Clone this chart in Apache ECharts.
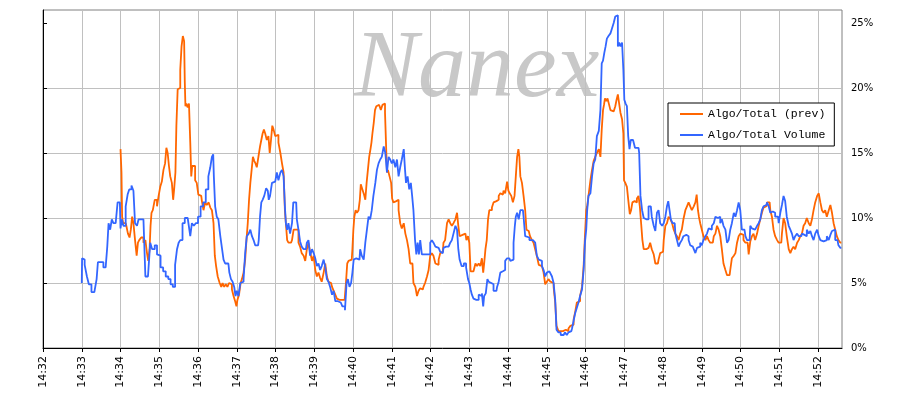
<!DOCTYPE html>
<html>
<head>
<meta charset="utf-8">
<script src="https://cdn.jsdelivr.net/npm/echarts@6/dist/echarts.min.js"></script>
<style>
html,body{margin:0;padding:0;background:#fff;}
#chart{width:899px;height:399px;}
</style>
</head>
<body>
<div id="chart"></div>
<script>
// Time in seconds after 14:32:00, values in percent
const seriesNames = ['Algo/Total (prev)', 'Algo/Total Volume'];
const minuteTicks = [0,60,120,180,240,300,360,420,480,540,600,660,720,780,840,900,960,1020,1080,1140,1200];
const pctTicks = [0,5,10,15,20,25];

const orangeSec = [120,121,122,123,125,128,130,133,135,137,139,141,144,146,148,150,154,157,160,162,164,166,167,169,171,175,178,180,183,185,188,190,192,194,196,198,201,202,204,206,207,210,211,214,215,218,219,220,221,223,225,227,229,230,232,234,237,239,242,245,247,250,252,255,258,
260,263,265,267,269,272,275,277,279,282,284,287,289,291,294,296,299,300,302,305,307,309,312,314,316,318,320,322,324,326,328,330,332,335,337,339,341,343,345,348,350,352,354,356,358,361,363,366,369,371,374,375,377,379,381,384,387,389,392,394,397,399,402,405,407,410,412,415,418,420,423,425,428,430,433,436,438,441,443,446,449,451,454,456,459,
461,466,468,470,472,474,478,480,481,483,485,487,490,491,493,496,498,500,502,504,506,508,509,511,513,515,517,519,522,524,527,529,530,532,533,535,538,540,541,544,547,549,552,554,557,560,562,565,567,570,572,575,578,580,583,585,588,590,593,596,598,601,603,606,609,611,614,616,619,621,624,627,629,632,634,637,640,642,644,646,648,651,654,657,659,661,
663,665,668,671,673,676,678,681,682,684,686,688,690,692,694,696,699,702,704,707,709,712,714,717,720,721,724,726,729,731,733,735,737,738,740,743,745,748,749,752,756,758,761,763,766,769,771,774,776,779,781,784,787,789,792,794,796,800,803,807,812,815,818,820,823,825,828,830,833,836,838,840,842,843,846,849,851,854,856,859,862,
864,866,868,869,871,873,875,877,880,882,885,887,889,891,893,895,898,899,900,903,905,908,909,912,913,916,918,921,923,925,927,929,931,934,936,939,941,944,947,949,952,954,957,960,962,965,967,970,973,975,978,980,983,985,988,990,993,996,998,1001,1003,1006,1009,1011,1013,1015,1016,1019,1021,1024,1027,1029,1032,1034,1037,1040,1042,
1045,1047,1050,1052,1055,1058,1060,1063,1065,1068,1071,1073,1076,1078,1081,1083,1086,1089,1091,1094,1096,1099,1101,1104,1107,1109,1112,1114,1117,1120,1122,1125,1127,1130,1132,1135,1138,1140,1143,1145,1148,1150,1153,1156,1158,1161,1163,1166,1169,1171,1174,1176,1179,1181,1184,1187,1189,1192,1194,1197,1200,1202,1205,1207,1210,1212,1215,1218,1220,1223,1225,1228,1230,1233,1236];
const orangePct = [15.3,15.2,13.5,10.1,9.6,9.6,9.4,8.8,8.5,9.1,10.1,9.6,8.3,7.1,8.1,8.3,8.5,8.1,8.3,7.3,6.7,7.6,9.4,10.4,10.6,11.4,10.9,11.7,12.4,12.8,13.7,14.2,15.4,15.0,14.0,13.2,12.7,11.4,12.2,13.5,17.1,19.9,20.0,21.4,23.2,24.0,23.6,20.5,18.6,18.8,18.5,18.8,15.8,13.2,14.0,14.0,12.9,12.7,11.8,11.7,11.3,10.6,11.2,11.0,11.2,
10.8,10.6,9.6,7.1,6.3,5.5,5.0,4.7,5.0,4.7,4.9,4.7,5.0,4.9,4.5,4.0,3.6,3.2,3.7,4.1,5.0,5.3,5.8,6.8,8.3,9.6,11.4,12.7,13.7,14.7,14.4,14.2,13.9,14.7,15.5,16.0,16.5,16.8,16.5,16.0,16.3,15.0,16.0,17.1,16.8,16.3,16.4,15.8,15.0,14.2,13.5,10.6,9.6,8.3,8.1,8.1,8.3,9.1,9.1,9.1,8.1,7.8,7.3,7.1,6.7,7.6,8.1,7.4,6.7,7.1,6.0,5.5,5.8,5.4,5.1,5.8,6.5,5.5,5.1,5.0,4.7,4.4,4.1,3.8,3.7,
3.7,3.6,3.7,5.0,6.5,6.7,6.8,7.6,9.1,10.1,10.6,10.4,10.6,11.4,12.6,12.2,11.8,11.4,12.7,13.7,14.7,15.3,15.8,16.5,17.3,18.3,18.6,18.7,18.6,18.3,18.7,18.8,18.1,15.8,13.5,13.7,13.2,12.7,11.5,11.2,11.3,11.4,10.6,9.6,9.2,9.6,8.8,8.3,7.6,6.5,6.5,5.0,4.7,4.0,4.4,4.6,4.5,4.7,5.0,5.5,6.0,7.1,7.3,7.1,6.5,6.4,6.8,7.3,7.4,8.1,8.3,9.6,9.9,9.6,9.4,9.6,9.9,10.4,9.4,8.6,8.7,8.6,8.8,8.3,8.6,8.1,
5.9,5.9,6.0,6.5,6.3,6.5,6.3,6.9,5.8,6.5,7.6,8.3,9.9,10.6,10.6,10.8,11.2,11.3,11.4,11.7,11.9,11.8,12.1,11.9,12.8,12.1,11.9,11.7,11.2,11.7,13.2,14.7,15.3,14.7,13.2,12.7,11.7,10.6,9.1,9.0,8.6,8.3,8.1,7.6,7.1,6.4,6.3,6.3,5.8,4.9,5.1,5.3,5.1,5.0,4.7,3.5,1.7,1.3,1.3,1.4,1.3,1.5,1.7,1.8,2.2,2.8,3.5,3.6,4.0,4.7,6.3,8.6,10.6,10.9,11.7,12.9,13.7,14.4,14.7,15.0,15.3,
14.7,16.8,18.3,18.7,19.2,19.0,19.2,18.8,18.3,18.2,18.3,18.6,19.1,19.5,18.8,18.1,17.6,16.5,12.9,12.7,12.4,11.2,10.3,10.6,11.2,11.3,11.2,11.5,11.7,10.9,9.6,8.3,7.6,7.6,7.7,7.6,8.1,7.6,7.2,6.5,6.5,6.8,7.3,7.4,8.3,9.4,9.6,10.1,9.9,9.6,9.1,8.8,8.6,8.3,8.8,9.1,9.9,10.6,10.9,11.2,10.9,10.6,10.9,11.2,11.8,10.6,10.1,9.6,9.1,8.6,8.3,8.6,8.3,8.1,8.1,8.6,8.8,
9.4,9.1,8.6,7.6,6.5,6.0,5.6,5.6,6.0,6.9,7.1,7.3,8.1,8.6,8.8,8.7,8.3,8.1,8.1,7.2,8.2,8.6,8.8,8.3,8.8,9.4,9.9,10.4,10.8,10.9,11.2,11.2,10.6,10.1,9.1,8.6,8.3,8.1,8.1,8.8,10.0,9.6,8.6,7.6,7.3,7.6,7.8,7.6,8.1,8.3,8.6,8.8,9.4,9.6,10.0,9.6,9.4,9.9,10.6,11.2,11.7,11.9,11.2,10.6,10.4,10.6,10.1,10.6,11.0,10.4,9.6,9.1,8.6,8.3,8.1];

const blueSec = [60,61,62,67,69,73,77,82,84,86,92,95,99,100,103,105,108,110,115,116,119,121,123,126,130,132,135,139,141,144,147,149,154,157,160,165,167,171,175,178,180,184,188,192,196,199,203,206,209,211,214,218,221,227,229,232,235,238,242,246,250,254,258,
260,263,264,265,268,270,273,276,278,281,283,287,290,292,295,297,299,301,304,307,309,312,314,317,320,322,325,327,330,333,335,337,339,341,344,347,349,350,353,356,358,361,363,366,369,371,374,375,377,379,381,384,387,388,392,394,397,399,402,405,407,410,412,415,418,420,423,425,428,430,433,436,438,441,443,446,449,451,454,459,
461,466,469,471,473,476,478,480,482,485,490,492,495,498,500,503,505,508,510,513,516,518,521,523,526,529,531,534,536,539,541,544,547,549,552,554,557,560,561,563,566,568,571,572,575,577,579,581,583,585,588,592,596,598,601,603,606,609,611,614,616,619,621,624,627,629,632,634,637,640,642,644,646,650,653,657,659,661,
663,665,668,671,673,676,678,681,682,684,687,689,691,694,696,699,702,704,707,709,712,714,717,720,722,725,727,730,731,733,735,738,740,743,745,748,750,756,761,763,766,769,771,774,776,779,781,784,787,789,792,794,796,800,803,806,810,812,815,818,820,823,825,828,830,833,836,838,840,842,843,846,849,851,854,856,859,862,
864,866,868,870,872,874,877,880,882,885,887,889,891,893,895,898,899,901,903,905,907,909,911,916,917,922,924,926,929,931,934,936,939,941,944,947,949,952,954,957,960,962,965,967,969,971,973,976,978,980,983,985,988,990,993,996,998,1001,1003,1006,1009,1011,1014,1016,1019,1021,1024,1027,1029,1032,1034,1037,1040,1042,
1045,1047,1050,1052,1055,1058,1060,1063,1065,1068,1071,1073,1076,1078,1081,1083,1086,1089,1091,1094,1096,1099,1101,1104,1107,1109,1112,1114,1117,1120,1122,1125,1127,1130,1132,1135,1138,1140,1143,1145,1148,1150,1153,1156,1158,1161,1163,1166,1169,1171,1174,1176,1179,1181,1184,1187,1189,1192,1194,1197,1200,1202,1205,1207,1210,1212,1215,1218,1220,1223,1225,1228,1230,1233,1236];
const bluePct = [5.0,6.9,6.8,6.4,5.5,4.9,4.3,4.3,5.3,6.6,6.6,6.2,6.2,7.8,9.6,9.1,9.9,9.6,9.6,11.2,11.2,9.2,9.9,9.4,10.9,11.8,12.2,12.5,12.1,9.6,9.4,9.9,9.9,9.9,5.5,5.5,8.1,7.6,7.9,7.2,7.1,6.2,5.9,5.5,5.3,4.9,4.7,6.4,7.6,8.1,8.3,9.6,10.0,10.1,8.6,9.6,9.4,9.6,10.1,10.9,11.2,12.2,13.2,
13.9,14.7,14.9,13.2,10.9,10.1,9.9,8.6,7.7,6.8,6.5,6.5,5.8,5.3,5.1,4.7,4.0,4.4,4.0,5.0,5.1,5.3,7.3,8.6,8.8,9.1,8.6,8.3,7.9,7.9,8.3,10.1,11.2,11.4,11.7,12.3,12.1,11.4,11.7,12.7,12.8,12.7,13.5,12.9,13.5,13.7,13.2,10.9,9.6,9.1,9.6,8.8,9.6,11.2,11.2,9.9,9.1,8.2,7.8,7.6,7.6,8.1,8.3,7.1,7.6,7.3,6.9,6.3,6.5,6.0,6.3,6.8,6.2,5.3,5.1,4.7,4.1,4.4,3.6,3.5,
3.5,3.2,2.9,5.0,5.3,4.7,5.0,5.8,6.8,6.9,6.8,7.6,7.1,6.8,8.1,9.1,10.1,9.9,10.6,11.7,12.7,13.7,14.2,14.5,14.7,15.5,15.0,13.5,14.7,14.5,14.2,14.5,13.9,14.5,13.2,13.9,14.5,15.3,13.7,12.7,13.2,12.2,12.7,11.7,10.6,8.3,7.2,8.1,7.2,8.3,7.2,7.2,7.3,7.2,8.1,8.3,8.1,7.8,7.7,7.8,7.4,7.3,7.7,7.8,7.9,7.8,8.1,8.3,8.8,9.4,9.1,7.6,6.8,6.3,6.5,6.2,5.3,5.0,
4.5,4.1,3.8,3.7,3.7,4.1,4.0,4.2,3.2,4.0,4.2,5.3,5.1,5.0,4.9,4.4,4.4,4.7,5.1,5.8,5.9,6.0,6.7,6.9,6.9,6.7,6.8,8.1,9.4,10.1,10.4,9.9,10.6,10.6,10.1,8.6,8.5,8.3,8.3,8.1,7.1,6.8,6.7,6.3,6.0,5.5,5.8,5.9,5.9,5.5,5.0,3.7,1.4,1.2,1.0,1.0,1.2,1.0,1.2,1.3,1.5,2.1,2.7,3.1,3.5,4.0,4.5,6.0,8.1,9.1,10.6,11.7,11.9,13.2,14.2,14.5,16.3,16.7,
18.3,21.9,22.1,22.7,23.2,23.8,24.0,24.2,24.6,25.0,25.5,25.6,23.2,23.5,23.2,23.5,21.4,19.1,18.8,18.6,16.3,15.3,16.0,16.0,15.4,15.4,15.0,11.7,10.6,10.0,9.9,9.9,10.9,10.9,10.1,9.4,9.0,10.4,10.6,9.6,9.4,9.6,10.1,10.9,11.3,10.6,9.9,9.6,9.6,8.8,8.3,7.8,8.1,8.3,8.6,8.7,8.6,8.3,7.9,7.8,7.6,7.3,7.7,7.8,8.1,7.9,8.3,8.6,8.8,9.2,9.1,9.4,9.6,10.1,
10.0,10.1,9.6,9.9,9.4,9.1,8.1,8.3,9.1,9.6,10.4,10.1,10.6,11.2,10.6,9.1,9.1,8.6,8.3,8.3,9.4,9.2,9.1,9.1,9.4,9.6,9.9,10.6,10.9,11.0,11.2,10.9,10.4,10.5,10.4,10.1,10.1,9.6,10.4,11.0,11.7,11.3,10.1,9.4,9.1,8.8,8.3,8.6,8.8,8.6,8.6,8.8,8.7,8.6,9.1,8.8,9.0,8.6,8.3,8.8,9.1,8.6,8.3,8.2,8.1,8.3,8.6,8.3,8.7,9.0,9.1,8.3,8.3,7.9,7.7];

const chart = echarts.init(document.getElementById('chart'), null, {renderer: 'canvas'});
const toPairs = (t, v) => t.map((x, i) => [x, v[i]]);

chart.setOption({
  animation: false,
  backgroundColor: '#ffffff',
  grid: {left: 43, right: 57, top: 10, bottom: 51, show: true, borderColor: '#808080', borderWidth: 1, backgroundColor: '#ffffff'},
  graphic: [{
    type: 'text', left: 354, top: 23, z: 0, silent: true,
    style: {text: 'Nanex', fontStyle: 'italic', fontWeight: 'normal', fontSize: 96, fontFamily: 'Liberation Serif', fill: '#c8c8c8'}
  }],
  legend: {
    data: seriesNames, orient: 'vertical', left: 668, top: 103,
    padding: [4, 9, 4, 12], itemGap: 7, itemWidth: 23, itemHeight: 2, icon: 'rect',
    borderColor: '#000', borderWidth: 1, backgroundColor: '#fff', borderRadius: 0,
    textStyle: {fontFamily: '"Liberation Mono", monospace', fontSize: 11.5, color: '#000', lineHeight: 14}
  },
  xAxis: {
    type: 'value', min: 0, max: 1237, interval: 60,
    axisLine: {show: true, lineStyle: {color: '#000', width: 1}},
    axisTick: {show: true, length: 4, customValues: minuteTicks, lineStyle: {color: '#000'}},
    axisLabel: {rotate: 90, margin: 8, customValues: minuteTicks, fontFamily: '"DejaVu Sans"', fontSize: 11, color: '#000',
      formatter: v => '14:' + String(32 + Math.round(v / 60)).padStart(2, '0')},
    splitLine: {show: true, showMinLine: false, lineStyle: {color: '#c0c0c0', width: 1}}
  },
  yAxis: {
    type: 'value', position: 'right', min: 0, max: 26, interval: 5,
    axisLine: {show: true, lineStyle: {color: '#000', width: 1}},
    axisTick: {show: true, length: 4, customValues: pctTicks, lineStyle: {color: '#000'}},
    axisLabel: {margin: 9, customValues: pctTicks, fontFamily: '"DejaVu Sans"', fontSize: 10, color: '#000', formatter: v => v + '%'},
    splitLine: {show: true, showMaxLine: false, lineStyle: {color: '#c0c0c0', width: 1}}
  },
  series: [
    {name: seriesNames[0], type: 'line', step: 'middle', symbol: 'none', data: toPairs(orangeSec, orangePct),
     lineStyle: {color: '#ff6600', width: 1.8}, itemStyle: {color: '#ff6600'}},
    {name: seriesNames[1], type: 'line', step: 'middle', symbol: 'none', data: toPairs(blueSec, bluePct),
     lineStyle: {color: '#3366ff', width: 1.8}, itemStyle: {color: '#3366ff'}}
  ]
});
</script>
</body>
</html>
